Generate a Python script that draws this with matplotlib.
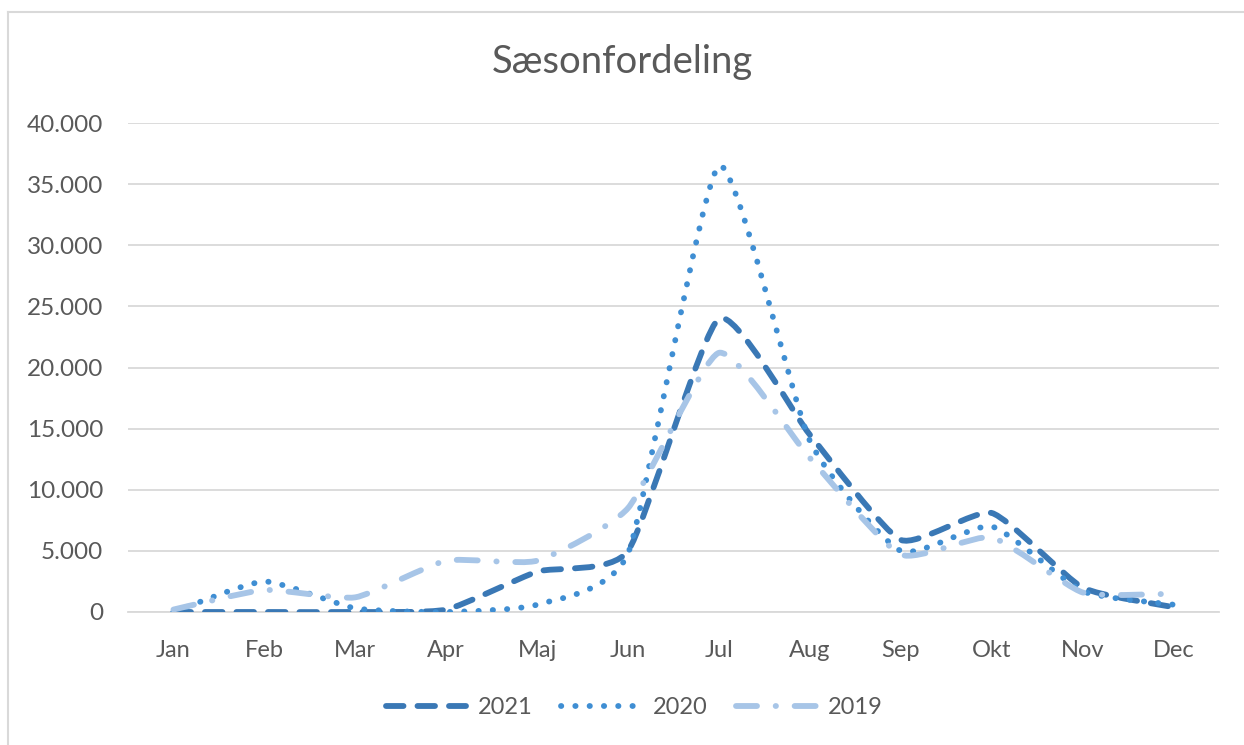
import matplotlib
matplotlib.use("Agg")
import matplotlib.pyplot as plt
import numpy as np
from matplotlib.path import Path
from matplotlib.patches import PathPatch
from matplotlib.lines import Line2D
from matplotlib.ticker import FuncFormatter

months = ["Jan", "Feb", "Mar", "Apr", "Maj", "Jun", "Jul", "Aug", "Sep", "Okt", "Nov", "Dec"]
y2021 = [0, 0, 0, 200, 3300, 5000, 24000, 14500, 5900, 8100, 2000, 400]
y2020 = [0, 2500, 300, 0, 600, 4800, 36500, 14000, 5000, 7000, 1700, 600]
y2019 = [200, 1800, 1200, 4200, 4200, 8500, 21200, 12600, 4700, 6100, 1600, 1500]
series_names = ["2021", "2020", "2019"]

FONT = ["Lato", "DejaVu Sans"]
plt.rcParams['font.family'] = FONT
TXT = "#595959"

fig = plt.figure(figsize=(12.44, 7.45), dpi=100)
W, H = 1244, 745
ax = fig.add_axes([128 / W, 1 - 612 / H, (1219 - 128) / W, (612 - 123) / H])

# chart border (left & top)
fig.add_artist(Line2D([8 / W, 8 / W], [1 - 12 / H, 0], transform=fig.transFigure, color="#d9d9d9", lw=1.5))
fig.add_artist(Line2D([8 / W, 1.0], [1 - 12 / H, 1 - 12 / H], transform=fig.transFigure, color="#d9d9d9", lw=1.5))

TENSION = 0.09


def smooth_path(xs, ys):
    P = np.column_stack([xs, ys]).astype(float)
    n = len(P)
    verts = [P[0]]
    codes = [Path.MOVETO]
    for i in range(n - 1):
        p0 = P[i - 1] if i > 0 else P[i]
        p1 = P[i]
        p2 = P[i + 1]
        p3 = P[i + 2] if i + 2 < n else P[i + 1]
        c1 = p1 + (p2 - p0) * TENSION
        c2 = p2 - (p3 - p1) * TENSION
        verts += [c1, c2, p2]
        codes += [Path.CURVE4] * 3
    return Path(np.array(verts), codes)


lw = 4.2
styles = [
    dict(color="#3A78B5", ls=(0, (3.0, 2.4))),
    dict(color="#3F8ED3", ls=(0, (0.05, 2.4))),
    dict(color="#A7C5E7", ls=(0, (3.6, 3.2, 0.05, 3.2))),
]
x = np.arange(len(months))
handles = []
for ys, st, name in zip([y2021, y2020, y2019], styles, series_names):
    p = smooth_path(x, ys)
    patch = PathPatch(p, fill=False, edgecolor=st["color"], lw=lw, linestyle=st["ls"],
                      capstyle="round", joinstyle="round", zorder=3)
    ax.add_patch(patch)
    handles.append(Line2D([], [], color=st["color"], lw=lw, linestyle=st["ls"],
                          dash_capstyle="round", solid_capstyle="round", label=name))

ax.set_xlim(-0.5, 11.5)
ax.set_ylim(0, 40000)
ax.set_xticks(x)
ax.set_xticklabels(months)
ax.set_yticks(np.arange(0, 40001, 5000))
ax.yaxis.set_major_formatter(FuncFormatter(lambda v, p: f"{int(v):,}".replace(",", ".")))
ax.grid(axis="y", color="#d9d9d9", lw=1.3)
ax.set_axisbelow(True)
for s in ["top", "right", "left"]:
    ax.spines[s].set_visible(False)
ax.spines["bottom"].set_color("#d9d9d9")
ax.spines["bottom"].set_linewidth(1.3)
ax.tick_params(axis="both", length=0, colors=TXT)
ax.tick_params(axis="y", pad=18, labelsize=17.5)
ax.tick_params(axis="x", pad=20, labelsize=17)

fig.text(0.5, 1 - 62 / H, "Sæsonfordeling", ha="center", va="center", fontsize=27.5, color=TXT)

leg = fig.legend(handles=handles, loc="center", bbox_to_anchor=(0.51, 1 - 708 / H), ncol=3,
                 frameon=False, fontsize=17, handlelength=3.4, columnspacing=1.2, handletextpad=0.5)
for t in leg.get_texts():
    t.set_color(TXT)

fig.savefig("out.png", dpi=100)
